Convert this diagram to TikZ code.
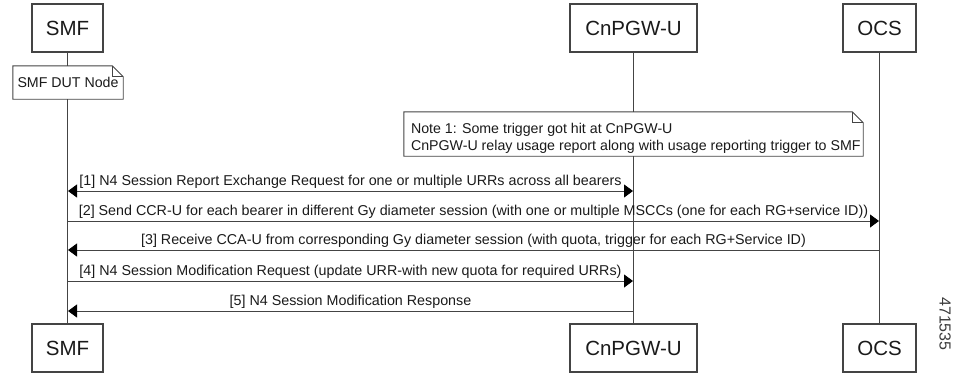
\documentclass[tikz,border=0pt]{standalone}
\usepackage{fontspec}
\setmainfont{Liberation Sans}
\usetikzlibrary{arrows.meta}
\definecolor{ln}{HTML}{444444}
\definecolor{tx}{HTML}{1A1A1A}
\begin{document}
\begin{tikzpicture}[x=1pt,y=-1pt,
  actor/.style={draw=ln, line width=1.1pt, fill=white, minimum height=48pt, inner sep=0pt, font=\fontsize{20.5}{24}\selectfont, text=tx},
  life/.style={draw=ln, line width=0.9pt},
  msg/.style={draw=ln, line width=0.9pt},
  tipend/.style={-{Triangle[length=9pt,width=13pt,color=black]}},
  tipboth/.style={{Triangle[length=9pt,width=13pt,color=black]}-{Triangle[length=9pt,width=13pt,color=black]}},
  mlabel/.style={font=\fontsize{14.3}{16}\selectfont, text=tx, inner sep=0pt, above=2pt},
  notebg/.style={fill=white, draw=none, inner sep=0pt},
  noteline/.style={draw=ln, line width=0.9pt},
  notetext/.style={font=\fontsize{14.2}{17}\selectfont, text=tx, inner sep=0pt}
]
\useasboundingbox (0,0) rectangle (955,375);

% actors top
\node[actor, minimum width=71pt] (smft) at (67.5,28) {SMF};
\node[actor, minimum width=127pt] (cnt) at (633.5,28) {CnPGW-U};
\node[actor, minimum width=73pt] (ocst) at (879.5,28) {OCS};
% actors bottom
\node[actor, minimum width=71pt] (smfb) at (67.5,348) {SMF};
\node[actor, minimum width=127pt] (cnb) at (633.5,348) {CnPGW-U};
\node[actor, minimum width=73pt] (ocsb) at (879.5,348) {OCS};

% lifelines
\draw[life] (smft) -- (smfb);
\draw[life] (cnt) -- (cnb);
\draw[life] (ocst) -- (ocsb);

% note: SMF DUT Node
\node[notebg, minimum width=110pt, minimum height=33pt] (dut) at (68,82.5) {};
\draw[noteline] (dut.north west) -- ([xshift=-11pt]dut.north east) -- ([yshift=-11pt]dut.north east) -- (dut.south east) -- (dut.south west) -- cycle;
\draw[noteline] ([xshift=-11pt]dut.north east) -- ([xshift=-11pt,yshift=-11pt]dut.north east) -- ([yshift=-11pt]dut.north east);
\node[notetext] (dutt) at (dut.center) {SMF DUT Node};

% note 1
\node[notebg, minimum width=459pt, minimum height=44pt] (n1) at (633.5,134) {};
\draw[noteline] (n1.north west) -- ([xshift=-11pt]n1.north east) -- ([yshift=-11pt]n1.north east) -- (n1.south east) -- (n1.south west) -- cycle;
\draw[noteline] ([xshift=-11pt]n1.north east) -- ([xshift=-11pt,yshift=-11pt]n1.north east) -- ([yshift=-11pt]n1.north east);
\node[notetext, anchor=north west, align=left] (n1t) at ([xshift=7pt,yshift=-11pt]n1.north west) {Note 1: Some trigger got hit at CnPGW-U\\CnPGW-U relay usage report along with usage reporting trigger to SMF};

% message points
\coordinate (s1) at (68,191);  \coordinate (c1) at (633,191);
\coordinate (s2) at (68,221);  \coordinate (o2) at (879,221);
\coordinate (s3) at (68,250);  \coordinate (o3) at (879,250);
\coordinate (s4) at (68,281);  \coordinate (c4) at (633,281);
\coordinate (s5) at (68,311);  \coordinate (c5) at (633,311);

\draw[msg, tipboth] (s1) -- node[mlabel] {[1] N4 Session Report Exchange Request for one or multiple URRs across all bearers} (c1);
\draw[msg, tipend] (s2) -- node[mlabel] {[2] Send CCR-U for each bearer in different Gy diameter session (with one or multiple MSCCs (one for each RG+service ID))} (o2);
\draw[msg, tipend] (o3) -- node[mlabel] {[3] Receive CCA-U from corresponding Gy diameter session (with quota, trigger for each RG+Service ID)} (s3);
\draw[msg, tipend] (s4) -- node[mlabel] {[4] N4 Session Modification Request (update URR-with new quota for required URRs)} (c4);
\draw[msg, tipend] (c5) -- node[mlabel] {[5] N4 Session Modification Response} (s5);

\node[rotate=-90, font=\fontsize{16}{18}\selectfont, text=tx!85, inner sep=0pt] (fig) at (945,324) {471535};
\end{tikzpicture}
\end{document}
